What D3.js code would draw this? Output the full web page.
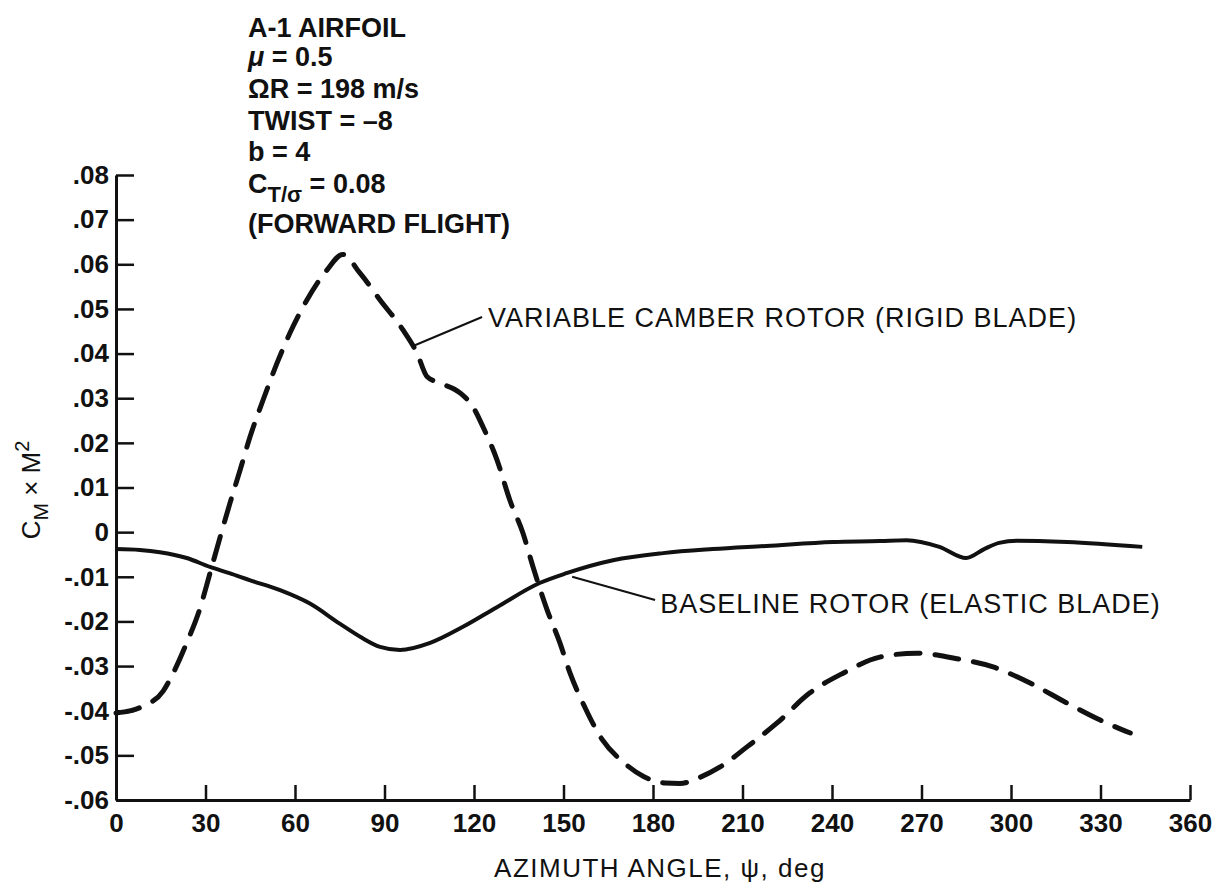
<!DOCTYPE html>
<html>
<head>
<meta charset="utf-8">
<script src="https://cdn.jsdelivr.net/npm/d3@7"></script>
<style>
  html, body { margin: 0; padding: 0; background: #fff; }
  svg { display: block; font-family: "Liberation Sans", Arial, Helvetica, sans-serif; }
</style>
</head>
<body>
<svg id="chart" width="1217" height="882"></svg>
<script>
// Azimuth angle (deg) and pitching-moment coefficient C_M x M^2
const camberPsi = [0, 5, 9, 15.8, 19, 23.7, 28, 31.5, 34.9, 38.2, 41.6, 44.9, 49.3, 54, 58.3, 64, 70.7, 76,
  81.8, 88.5, 96.2, 100.9, 104.3, 108.6, 115.3, 119.7, 123, 127.7, 132, 136.4, 139.8, 144.5, 148.8, 152.2,
  157, 163, 170, 177, 184, 189, 195.8, 202.5, 211.5, 221.5, 232.6, 243.7, 256, 268.5, 280.6, 294, 306.4,
  318.8, 329.9, 340];
const camberCm = [-0.0405, -0.0400, -0.0390, -0.0356, -0.0318, -0.0248, -0.0174, -0.0092, -0.0011,
  0.0065, 0.0139, 0.0213, 0.0296, 0.0379, 0.0446, 0.0520, 0.0587, 0.0622,
  0.0580, 0.0520, 0.0453, 0.0401, 0.0348, 0.0334, 0.0312, 0.0280, 0.0236, 0.0162, 0.0072, -0.0002, -0.0078,
  -0.0174, -0.0248, -0.0316, -0.0390, -0.0465, -0.0515, -0.0548, -0.0562, -0.0563, -0.0549, -0.0526,
  -0.0481, -0.0428, -0.0360, -0.0316, -0.0280, -0.0271, -0.0282, -0.0302, -0.0338, -0.0383, -0.0421, -0.0450];

const baselinePsi = [0, 8, 14.7, 23.7, 31.5, 38, 45, 55, 65, 75, 82, 88.5, 95.2, 105.3, 116.3, 127.7, 142, 151,
  166.6, 183.4, 200, 218, 240.4, 256, 265, 276, 285, 291, 296, 302, 318.8, 344];
const baselineCm = [-0.0038, -0.0040, -0.0045, -0.0058, -0.0078, -0.0092, -0.0108, -0.0130, -0.0160, -0.0205,
  -0.0235, -0.0257, -0.0264, -0.0248, -0.0212, -0.0168, -0.0114, -0.0092, -0.0063, -0.0047, -0.0038, -0.0031,
  -0.0022, -0.0020, -0.0018, -0.0033, -0.0058, -0.0038, -0.0024, -0.0019, -0.0022, -0.0033];

const xTicks = [0, 30, 60, 90, 120, 150, 180, 210, 240, 270, 300, 330, 360];
const yTicks = [0.08, 0.07, 0.06, 0.05, 0.04, 0.03, 0.02, 0.01, 0, -0.01, -0.02, -0.03, -0.04, -0.05, -0.06];
const yTickLabels = [".08", ".07", ".06", ".05", ".04", ".03", ".02", ".01", "0",
  "-.01", "-.02", "-.03", "-.04", "-.05", "-.06"];

const conditionLines = ["A-1 AIRFOIL", "\u03BC = 0.5", "\u03A9R = 198 m/s", "TWIST = \u20138", "b = 4",
  "C_T/\u03C3 = 0.08", "(FORWARD FLIGHT)"];

const curveLabels = ["VARIABLE CAMBER ROTOR (RIGID BLADE)", "BASELINE ROTOR (ELASTIC BLADE)"];
// leader line: from a point on the curve to the label start (psi, value)
const leaderFromPsi = [99.6, 152.9];
const leaderFromCm = [0.0417, -0.0100];
const leaderToPsi = [122.7, 180.7];
const leaderToCm = [0.0482, -0.0152];
const labelPsi = [124.7, 182.4];
const labelCm = [0.0460, -0.0181];

const svg = d3.select("#chart");
const x = d3.scaleLinear().domain([0, 360]).range([116, 1190]);
const y = d3.scaleLinear().domain([-0.06, 0.08]).range([800, 175]);

const ink = "#111";

// x axis, ticks pointing up into the plot
const xAxis = d3.axisBottom(x).tickValues(xTicks).tickSizeInner(-15).tickSizeOuter(0).tickPadding(14)
  .tickFormat(d3.format("d"));
const gx = svg.append("g").attr("transform", `translate(0,${y(-0.06)})`).call(xAxis);
gx.select(".domain").attr("stroke", ink).attr("stroke-width", 3);
gx.selectAll(".tick line").attr("stroke", ink).attr("stroke-width", 2.5);
gx.selectAll(".tick text").attr("fill", ink).attr("font-size", 26).attr("font-weight", "bold")
  .attr("font-family", "'Liberation Sans', Arial, sans-serif");

// y axis, ticks pointing right into the plot
const yAxis = d3.axisLeft(y).tickValues(yTicks).tickSizeInner(-18).tickSizeOuter(0).tickPadding(7)
  .tickFormat((d, i) => yTickLabels[i]);
const gy = svg.append("g").attr("transform", `translate(${x(0)},0)`).call(yAxis);
gy.select(".domain").attr("stroke", ink).attr("stroke-width", 3);
gy.selectAll(".tick line").attr("stroke", ink).attr("stroke-width", 2.5);
gy.selectAll(".tick text").attr("fill", ink).attr("font-size", 26).attr("font-weight", "bold")
  .attr("font-family", "'Liberation Sans', Arial, sans-serif");

// curves
const line = d3.line().x(d => x(d[0])).y(d => y(d[1])).curve(d3.curveMonotoneX);
const camberPts = camberPsi.map((p, i) => [p, camberCm[i]]);
const baselinePts = baselinePsi.map((p, i) => [p, baselineCm[i]]);

svg.append("path").datum(baselinePts).attr("d", line)
  .attr("fill", "none").attr("stroke", ink).attr("stroke-width", 4).attr("stroke-linejoin", "round");

svg.append("path").datum(camberPts).attr("d", line)
  .attr("fill", "none").attr("stroke", ink).attr("stroke-width", 5)
  .attr("stroke-dasharray", "24 15").attr("stroke-linecap", "round");

// leader lines and curve labels
curveLabels.forEach((t, i) => {
  svg.append("line")
    .attr("x1", x(leaderFromPsi[i])).attr("y1", y(leaderFromCm[i]))
    .attr("x2", x(leaderToPsi[i])).attr("y2", y(leaderToCm[i]))
    .attr("stroke", ink).attr("stroke-width", 2);
  svg.append("text").attr("x", x(labelPsi[i])).attr("y", y(labelCm[i]))
    .attr("font-size", 27).attr("letter-spacing", 1).attr("fill", ink).text(t);
});

// flight condition block
const baselines = [37, 66, 98, 130, 161, 193, 233];
const cond = svg.append("g").attr("font-size", 27).attr("font-weight", "bold").attr("fill", ink);
conditionLines.forEach((t, i) => {
  const tx = cond.append("text").attr("x", 248).attr("y", baselines[i]);
  if (t.startsWith("C_")) {
    const rest = t.slice(2);
    const cut = rest.indexOf(" ");
    tx.append("tspan").text("C");
    tx.append("tspan").attr("dy", 9).attr("font-size", 22).text(rest.slice(0, cut));
    tx.append("tspan").attr("dy", -9).text(rest.slice(cut));
  } else if (t.startsWith("\u03BC")) {
    tx.append("tspan").attr("font-style", "italic").text("\u03BC");
    tx.append("tspan").text(t.slice(1));
  } else {
    tx.text(t);
  }
});

// y axis title: C_M x M^2
const yt = svg.append("text").attr("transform", "translate(40,490) rotate(-90)")
  .attr("text-anchor", "middle").attr("font-size", 26).attr("fill", ink);
yt.append("tspan").text("C");
yt.append("tspan").attr("dy", 8).attr("font-size", 21).text("M");
yt.append("tspan").attr("dy", -8).text(" \u00D7 M");
yt.append("tspan").attr("dy", -11).attr("font-size", 20).text("2");

// x axis title
svg.append("text").attr("x", 660).attr("y", 877).attr("text-anchor", "middle")
  .attr("font-size", 26).attr("letter-spacing", 1.5).attr("fill", ink)
  .text("AZIMUTH ANGLE, \u03C8, deg");
</script>
</body>
</html>
